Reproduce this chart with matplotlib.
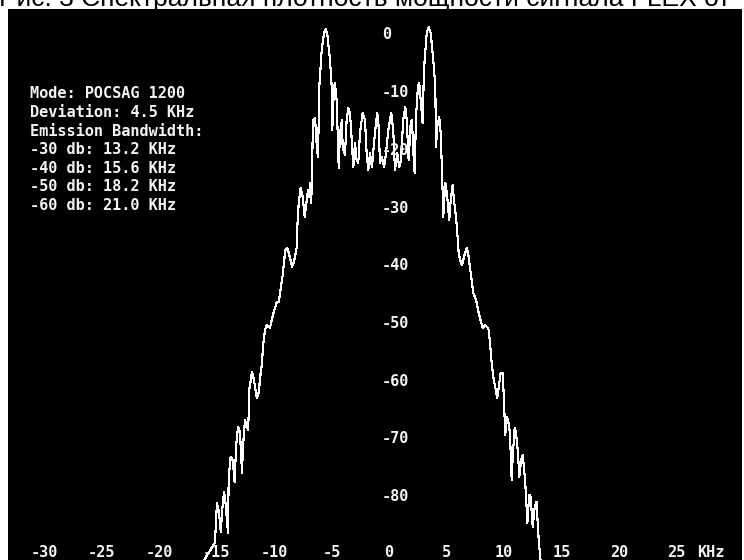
import matplotlib
matplotlib.use("Agg")
import matplotlib.pyplot as plt
import matplotlib.transforms as mtransforms

# Spectrum trace: frequency offset (kHz) and level (dB)
freq_khz = [
    -16.17, -15.13, -15.04, -14.96, -14.78, -14.63, -14.52, -14.35, -14.26, -14.00,
    -13.94, -13.77, -13.59, -13.42, -13.30, -13.13, -12.96, -12.78, -12.70, -12.52,
    -12.26, -12.17, -12.15, -11.91, -11.74, -11.50, -11.33, -11.16, -11.04, -10.96,
    -10.78, -10.63, -10.35, -10.09, -9.77, -9.59, -9.24, -9.02, -8.84, -8.67,
    -8.43, -8.26, -8.03, -7.97, -7.85, -7.68, -7.50, -7.33, -7.22, -7.04,
    -6.93, -6.87, -6.76, -6.70,
    -6.61, -6.43, -6.26, -6.17, -6.06, -5.85, -5.65, -5.50, -5.37, -5.13,
    -4.98, -4.93, -4.78, -4.70, -4.55, -4.37, -4.26, -4.09, -4.03, -3.83,
    -3.68, -3.54, -3.39, -3.24, -3.10, -2.96, -2.81, -2.67, -2.52, -2.29,
    -2.09, -1.94, -1.80, -1.65, -1.48, -1.30, -1.13, -1.02, -0.90, -0.78,
    -0.61, -0.43, -0.26, -0.06, 0.20, 0.37, 0.52, 0.72, 0.90, 1.04,
    1.24, 1.42, 1.54, 1.71, 1.89, 2.00, 2.11, 2.23, 2.35, 2.52,
    2.63, 2.76, 2.93, 3.04, 3.28, 3.45, 3.63, 3.85, 4.03, 4.09,
    4.20, 4.37, 4.50, 4.58,
    4.67, 4.72, 4.90, 5.07, 5.24, 5.37, 5.54, 5.65, 5.83, 5.94,
    6.06, 6.23, 6.35, 6.52, 6.76, 6.87, 7.04, 7.22, 7.33, 7.57,
    7.80, 8.03, 8.15, 8.32, 8.55, 8.67, 8.78, 8.93, 9.07, 9.42,
    9.59, 9.71, 9.89, 10.00, 10.11, 10.23, 10.35, 10.52, 10.67, 10.76,
    10.93, 11.04, 11.22, 11.33, 11.50, 11.63, 11.74, 11.91, 12.03, 12.20,
    12.32, 12.50, 12.67, 12.84, 12.96, 13.07, 13.19,
]
level_db = [
    -91.3, -88.0, -84.1, -81.1, -82.8, -86.1, -82.8, -79.2, -80.1, -86.3,
    -76.8, -73.1, -73.7, -77.5, -71.4, -67.9, -68.8, -75.9, -71.4, -66.7,
    -68.5, -64.6, -61.5, -58.4, -59.8, -62.9, -62.0, -58.6, -56.8, -54.1,
    -51.1, -50.3, -50.8, -48.5, -46.4, -46.3, -41.6, -37.3, -36.9, -38.1,
    -40.2, -39.3, -36.9, -33.3, -29.1, -26.5, -28.1, -31.5, -29.8, -26.9,
    -28.1, -25.6, -29.1, -24.6,
    -14.7, -14.4, -19.9, -21.1, -9.0, -2.6, 0.3, 1.0, 0.3, -4.3,
    -9.0, -16.5, -9.0, -8.3, -11.3, -23.1, -17.0, -14.7, -19.4, -20.8,
    -14.7, -12.7, -13.5, -18.2, -22.9, -18.7, -21.7, -22.2, -17.0, -13.5,
    -14.7, -20.5, -23.4, -20.5, -22.9, -18.7, -15.3, -13.5, -15.9, -22.2,
    -21.1, -22.9, -20.5, -16.5, -13.5, -16.5, -23.4, -20.5, -22.9, -21.7,
    -14.7, -12.5, -14.7, -21.7, -15.3, -14.7, -19.9, -23.9, -14.2, -9.0,
    -8.3, -11.3, -15.3, -6.1, 0.3, 1.4, 0.3, -4.3, -9.0, -19.4,
    -15.9, -14.2, -17.0, -22.0,
    -27.4, -31.5, -25.6, -28.1, -32.1, -28.6, -26.0, -28.6, -31.5, -34.3,
    -37.8, -39.3, -39.9, -38.5, -36.9, -37.6, -40.2, -43.0, -44.7, -45.9,
    -48.2, -49.9, -50.8, -50.3, -50.6, -51.1, -53.2, -56.8, -59.3, -62.9,
    -60.3, -58.6, -58.6, -63.3, -69.3, -66.2, -66.7, -69.0, -77.1, -73.1,
    -68.1, -68.8, -72.4, -76.6, -73.7, -72.8, -74.9, -79.4, -84.6, -79.7,
    -80.1, -85.3, -81.8, -80.9, -85.8, -88.7, -91.3,
]

x_ticks = [-30, -25, -20, -15, -10, -5, 0, 5, 10, 15, 20, 25]
y_ticks = [0, -10, -20, -30, -40, -50, -60, -70, -80]
info_lines = [
    "Mode: POCSAG 1200",
    "Deviation: 4.5 KHz",
    "Emission Bandwidth:",
    "-30 db: 13.2 KHz",
    "-40 db: 15.6 KHz",
    "-50 db: 18.2 KHz",
    "-60 db: 21.0 KHz",
]
title = "Рис. 3 Спектральная плотность мощности сигнала FLEX от"

FG = "#f2f2f2"
MONO = dict(family="DejaVu Sans Mono", weight="bold", color=FG, fontsize=11)

fig = plt.figure(figsize=(7.44, 5.6), dpi=100)
fig.patch.set_facecolor("white")

W, H = 744, 560
ax = fig.add_axes([8 / W, 0, (742 - 8) / W, (560 - 9) / H])
ax.set_facecolor("black")
for s in ax.spines.values():
    s.set_visible(False)
ax.set_xticks([])
ax.set_yticks([])
ax.set_xlim(-33.13, 30.70)
ax.set_ylim(-91.0, 4.5)

ax.plot(freq_khz, level_db, color="white", linewidth=0.8, antialiased=False)

# y labels sit just left of the centre line, x labels along the bottom
for v in y_ticks:
    ax.text(-0.6, v, str(v), ha="left", va="center", **MONO)
bottom = mtransforms.blended_transform_factory(ax.transData, ax.transAxes)
for v in x_ticks:
    ax.text(v, 0.013, str(v), transform=bottom, ha="center", va="center", **MONO)
ax.text(26.8, 0.013, "KHz", transform=bottom, ha="left", va="center", **MONO)

y0 = (560 - 94) / 551
step = 18.5 / 551
for i, line in enumerate(info_lines):
    ax.text(0.030, y0 - i * step, line, transform=ax.transAxes,
            ha="left", va="center", **MONO)

fig.text(-0.002, 1 - 6 / H, title, ha="left", va="baseline",
         family="Liberation Sans", fontsize=19, color="black")

fig.savefig("out.png", dpi=100, facecolor=fig.get_facecolor())
